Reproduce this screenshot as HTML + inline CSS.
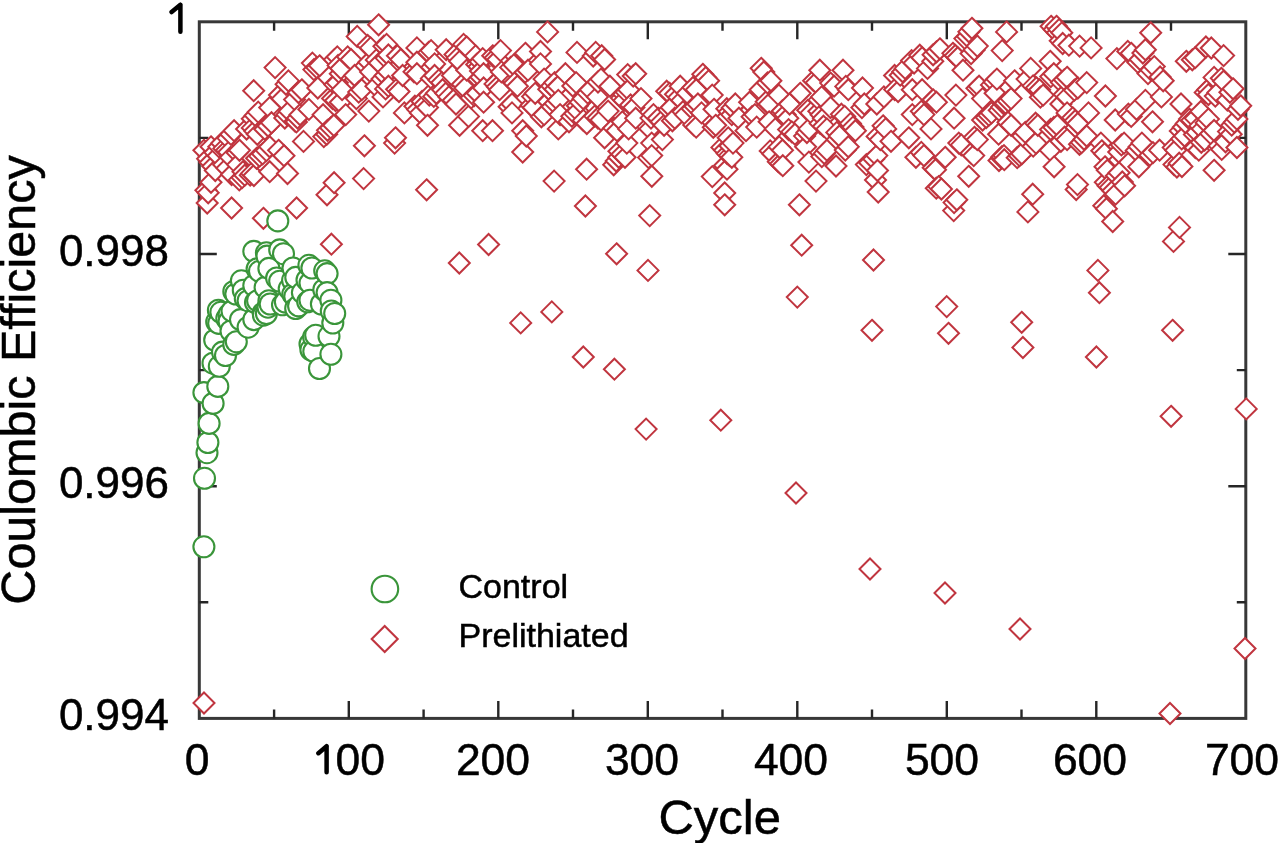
<!DOCTYPE html>
<html><head><meta charset="utf-8"><style>
html,body{margin:0;padding:0;background:#fff;width:1280px;height:843px;overflow:hidden}
svg{display:block;filter:blur(0.45px)}
text{font-family:"Liberation Sans", sans-serif;fill:#000;stroke:#000;stroke-width:0.5px}
</style></head><body>
<svg width="1280" height="843" viewBox="0 0 1280 843">
<rect width="1280" height="843" fill="#fff"/>
<rect x="199.3" y="21.8" width="1046.5" height="696.6" fill="none" stroke="#383838" stroke-width="3"/>
<path d="M274.1 718.4v-9M274.1 21.8v9M348.8 718.4v-17.5M348.8 21.8v17.5M423.6 718.4v-9M423.6 21.8v9M498.3 718.4v-17.5M498.3 21.8v17.5M573.0 718.4v-9M573.0 21.8v9M647.8 718.4v-17.5M647.8 21.8v17.5M722.5 718.4v-9M722.5 21.8v9M797.3 718.4v-17.5M797.3 21.8v17.5M872.0 718.4v-9M872.0 21.8v9M946.8 718.4v-17.5M946.8 21.8v17.5M1021.5 718.4v-9M1021.5 21.8v9M1096.3 718.4v-17.5M1096.3 21.8v17.5M1171.0 718.4v-9M1171.0 21.8v9M199.3 137.9h9M1245.8 137.9h-9M199.3 254.0h17.5M1245.8 254.0h-17.5M199.3 370.1h9M1245.8 370.1h-9M199.3 486.2h17.5M1245.8 486.2h-17.5M199.3 602.3h9M1245.8 602.3h-9" stroke="#262626" stroke-width="2.4" fill="none"/>
<g fill="#fff" stroke="#c0353f" stroke-width="2.0" stroke-linejoin="miter"><path d="M203.9 139.8L214.4 150.3L203.9 160.8L193.4 150.3Z"/><path d="M204.0 692.5L214.5 703.0L204.0 713.5L193.5 703.0Z"/><path d="M205.9 179.8L216.4 190.3L205.9 200.8L195.4 190.3Z"/><path d="M207.2 192.5L217.7 203.0L207.2 213.5L196.7 203.0Z"/><path d="M207.6 148.2L218.1 158.7L207.6 169.2L197.1 158.7Z"/><path d="M208.2 182.3L218.7 192.8L208.2 203.3L197.7 192.8Z"/><path d="M210.2 152.0L220.7 162.5L210.2 173.0L199.7 162.5Z"/><path d="M211.0 136.3L221.5 146.8L211.0 157.3L200.5 146.8Z"/><path d="M211.0 171.8L221.5 182.3L211.0 192.8L200.5 182.3Z"/><path d="M212.8 155.8L223.3 166.3L212.8 176.8L202.3 166.3Z"/><path d="M214.9 142.0L225.4 152.5L214.9 163.0L204.4 152.5Z"/><path d="M215.3 160.0L225.8 170.5L215.3 181.0L204.8 170.5Z"/><path d="M218.1 145.2L228.6 155.7L218.1 166.2L207.6 155.7Z"/><path d="M218.8 136.2L229.3 146.7L218.8 157.2L208.3 146.7Z"/><path d="M221.7 132.7L232.2 143.2L221.7 153.7L211.2 143.2Z"/><path d="M223.7 154.3L234.2 164.8L223.7 175.3L213.2 164.8Z"/><path d="M223.9 137.9L234.4 148.4L223.9 158.9L213.4 148.4Z"/><path d="M226.4 139.8L236.9 150.3L226.4 160.8L215.9 150.3Z"/><path d="M227.0 157.6L237.5 168.1L227.0 178.6L216.5 168.1Z"/><path d="M227.9 127.6L238.4 138.1L227.9 148.6L217.4 138.1Z"/><path d="M228.8 141.6L239.3 152.1L228.8 162.6L218.3 152.1Z"/><path d="M230.6 146.9L241.1 157.4L230.6 167.9L220.1 157.4Z"/><path d="M231.0 123.9L241.5 134.4L231.0 144.9L220.5 134.4Z"/><path d="M231.6 197.5L242.1 208.0L231.6 218.5L221.1 208.0Z"/><path d="M231.6 164.0L242.1 174.5L231.6 185.0L221.1 174.5Z"/><path d="M234.1 120.2L244.6 130.7L234.1 141.2L223.6 130.7Z"/><path d="M237.1 142.3L247.6 152.8L237.1 163.3L226.6 152.8Z"/><path d="M237.7 154.1L248.2 164.6L237.7 175.1L227.2 164.6Z"/><path d="M239.3 169.4L249.8 179.9L239.3 190.4L228.8 179.9Z"/><path d="M239.5 139.8L250.0 150.3L239.5 160.8L229.0 150.3Z"/><path d="M242.1 167.1L252.6 177.6L242.1 188.1L231.6 177.6Z"/><path d="M243.0 161.2L253.5 171.7L243.0 182.2L232.5 171.7Z"/><path d="M244.8 164.7L255.3 175.2L244.8 185.7L234.3 175.2Z"/><path d="M246.6 118.5L257.1 129.0L246.6 139.5L236.1 129.0Z"/><path d="M250.2 164.7L260.7 175.2L250.2 185.7L239.7 175.2Z"/><path d="M251.6 162.9L262.1 173.4L251.6 183.9L241.1 173.4Z"/><path d="M252.3 108.3L262.8 118.8L252.3 129.3L241.8 118.8Z"/><path d="M252.3 117.4L262.8 127.9L252.3 138.4L241.8 127.9Z"/><path d="M253.7 80.2L264.2 90.7L253.7 101.2L243.2 90.7Z"/><path d="M253.9 165.0L264.4 175.5L253.9 186.0L243.4 175.5Z"/><path d="M254.8 120.6L265.3 131.1L254.8 141.6L244.3 131.1Z"/><path d="M255.2 105.0L265.7 115.5L255.2 126.0L244.7 115.5Z"/><path d="M256.6 147.8L267.1 158.3L256.6 168.8L246.1 158.3Z"/><path d="M257.3 123.8L267.8 134.3L257.3 144.8L246.8 134.3Z"/><path d="M258.2 101.6L268.7 112.1L258.2 122.6L247.7 112.1Z"/><path d="M259.6 145.6L270.1 156.1L259.6 166.6L249.1 156.1Z"/><path d="M262.6 143.4L273.1 153.9L262.6 164.4L252.1 153.9Z"/><path d="M263.4 207.8L273.9 218.3L263.4 228.8L252.9 218.3Z"/><path d="M264.8 118.8L275.3 129.3L264.8 139.8L254.3 129.3Z"/><path d="M266.4 140.1L276.9 150.6L266.4 161.1L255.9 150.6Z"/><path d="M268.1 115.5L278.6 126.0L268.1 136.5L257.6 126.0Z"/><path d="M269.7 136.3L280.2 146.8L269.7 157.3L259.2 146.8Z"/><path d="M269.7 161.2L280.2 171.7L269.7 182.2L259.2 171.7Z"/><path d="M269.7 97.1L280.2 107.6L269.7 118.1L259.2 107.6Z"/><path d="M271.5 112.2L282.0 122.7L271.5 133.2L261.0 122.7Z"/><path d="M275.1 57.1L285.6 67.6L275.1 78.1L264.6 67.6Z"/><path d="M278.6 139.8L289.1 150.3L278.6 160.8L268.1 150.3Z"/><path d="M279.5 84.5L290.0 95.0L279.5 105.5L269.0 95.0Z"/><path d="M282.2 88.2L292.7 98.7L282.2 109.2L271.7 98.7Z"/><path d="M284.0 145.2L294.5 155.7L284.0 166.2L273.5 155.7Z"/><path d="M284.8 107.5L295.3 118.0L284.8 128.5L274.3 118.0Z"/><path d="M286.1 73.8L296.6 84.3L286.1 94.8L275.6 84.3Z"/><path d="M287.0 104.1L297.5 114.6L287.0 125.1L276.5 114.6Z"/><path d="M287.5 163.0L298.0 173.5L287.5 184.0L277.0 173.5Z"/><path d="M288.4 70.4L298.9 80.9L288.4 91.4L277.9 80.9Z"/><path d="M289.3 100.7L299.8 111.2L289.3 121.7L278.8 111.2Z"/><path d="M294.6 89.1L305.1 99.6L294.6 110.1L284.1 99.6Z"/><path d="M295.1 110.7L305.6 121.2L295.1 131.7L284.6 121.2Z"/><path d="M296.4 111.4L306.9 121.9L296.4 132.4L285.9 121.9Z"/><path d="M296.6 197.5L307.1 208.0L296.6 218.5L286.1 208.0Z"/><path d="M297.6 107.5L308.1 118.0L297.6 128.5L287.1 118.0Z"/><path d="M298.5 82.0L309.0 92.5L298.5 103.0L288.0 92.5Z"/><path d="M300.0 104.2L310.5 114.7L300.0 125.2L289.5 114.7Z"/><path d="M301.8 79.3L312.3 89.8L301.8 100.3L291.3 89.8Z"/><path d="M303.5 130.9L314.0 141.4L303.5 151.9L293.0 141.4Z"/><path d="M308.9 98.9L319.4 109.4L308.9 119.9L298.4 109.4Z"/><path d="M312.4 52.6L322.9 63.1L312.4 73.6L301.9 63.1Z"/><path d="M313.9 59.1L324.4 69.6L313.9 80.1L303.4 69.6Z"/><path d="M316.8 57.2L327.3 67.7L316.8 78.2L306.3 67.7Z"/><path d="M317.8 77.5L328.3 88.0L317.8 98.5L307.3 88.0Z"/><path d="M319.6 55.3L330.1 65.8L319.6 76.3L309.1 65.8Z"/><path d="M323.1 104.2L333.6 114.7L323.1 125.2L312.6 114.7Z"/><path d="M323.8 126.1L334.3 136.6L323.8 147.1L313.3 136.6Z"/><path d="M326.7 123.8L337.2 134.3L326.7 144.8L316.2 134.3Z"/><path d="M327.0 184.3L337.5 194.8L327.0 205.3L316.5 194.8Z"/><path d="M327.5 119.8L338.0 130.3L327.5 140.8L317.0 130.3Z"/><path d="M330.7 117.4L341.2 127.9L330.7 138.4L320.2 127.9Z"/><path d="M331.4 233.7L341.9 244.2L331.4 254.7L320.9 244.2Z"/><path d="M332.6 88.0L343.1 98.5L332.6 109.0L322.1 98.5Z"/><path d="M333.8 114.9L344.3 125.4L333.8 135.9L323.3 125.4Z"/><path d="M334.1 172.2L344.6 182.7L334.1 193.2L323.6 182.7Z"/><path d="M334.5 49.1L345.0 59.6L334.5 70.1L324.0 59.6Z"/><path d="M334.8 74.1L345.3 84.6L334.8 95.1L324.3 84.6Z"/><path d="M335.6 90.0L346.1 100.5L335.6 111.0L325.1 100.5Z"/><path d="M337.3 46.4L347.8 56.9L337.3 67.4L326.8 56.9Z"/><path d="M337.3 72.2L347.8 82.7L337.3 93.2L326.8 82.7Z"/><path d="M338.1 54.9L348.6 65.4L338.1 75.9L327.6 65.4Z"/><path d="M340.3 63.2L350.8 73.7L340.3 84.2L329.8 73.7Z"/><path d="M340.3 91.7L350.8 102.2L340.3 112.7L329.8 102.2Z"/><path d="M340.9 58.0L351.4 68.5L340.9 79.0L330.4 68.5Z"/><path d="M342.1 79.2L352.6 89.7L342.1 100.2L331.6 89.7Z"/><path d="M345.7 104.1L356.2 114.6L345.7 125.1L335.2 114.6Z"/><path d="M347.7 46.4L358.2 56.9L347.7 67.4L337.2 56.9Z"/><path d="M351.0 49.0L361.5 59.5L351.0 70.0L340.5 59.5Z"/><path d="M354.6 65.0L365.1 75.5L354.6 86.0L344.1 75.5Z"/><path d="M356.4 88.1L366.9 98.6L356.4 109.1L345.9 98.6Z"/><path d="M357.2 25.9L367.7 36.4L357.2 46.9L346.7 36.4Z"/><path d="M358.7 81.6L369.2 92.1L358.7 102.6L348.2 92.1Z"/><path d="M361.7 79.2L372.2 89.7L361.7 100.2L351.2 89.7Z"/><path d="M363.6 168.1L374.1 178.6L363.6 189.1L353.1 178.6Z"/><path d="M364.4 135.3L374.9 145.8L364.4 156.3L353.9 145.8Z"/><path d="M367.7 35.0L378.2 45.5L367.7 56.0L357.2 45.5Z"/><path d="M368.8 51.7L379.3 62.2L368.8 72.7L358.3 62.2Z"/><path d="M368.8 100.6L379.3 111.1L368.8 121.6L358.3 111.1Z"/><path d="M370.6 37.4L381.1 47.9L370.6 58.4L360.1 47.9Z"/><path d="M370.6 61.4L381.1 71.9L370.6 82.4L360.1 71.9Z"/><path d="M375.9 75.7L386.4 86.2L375.9 96.7L365.4 86.2Z"/><path d="M376.3 49.4L386.8 59.9L376.3 70.4L365.8 59.9Z"/><path d="M378.6 14.3L389.1 24.8L378.6 35.3L368.1 24.8Z"/><path d="M379.5 52.5L390.0 63.0L379.5 73.5L369.0 63.0Z"/><path d="M382.0 68.6L392.5 79.1L382.0 89.6L371.5 79.1Z"/><path d="M383.0 86.4L393.5 96.9L383.0 107.4L372.5 96.9Z"/><path d="M383.9 35.7L394.4 46.2L383.9 56.7L373.4 46.2Z"/><path d="M385.2 65.0L395.7 75.5L385.2 86.0L374.7 75.5Z"/><path d="M385.6 78.4L396.1 88.9L385.6 99.4L375.1 88.9Z"/><path d="M386.1 47.6L396.6 58.1L386.1 68.6L375.6 58.1Z"/><path d="M386.6 33.9L397.1 44.4L386.6 54.9L376.1 44.4Z"/><path d="M388.4 44.5L398.9 55.0L388.4 65.5L377.9 55.0Z"/><path d="M388.4 61.4L398.9 71.9L388.4 82.4L377.9 71.9Z"/><path d="M388.4 75.7L398.9 86.2L388.4 96.7L377.9 86.2Z"/><path d="M394.6 132.6L405.1 143.1L394.6 153.6L384.1 143.1Z"/><path d="M395.5 127.3L406.0 137.8L395.5 148.3L385.0 137.8Z"/><path d="M396.6 78.8L407.1 89.3L396.6 99.8L386.1 89.3Z"/><path d="M397.4 45.2L407.9 55.7L397.4 66.2L386.9 55.7Z"/><path d="M399.0 81.0L409.5 91.5L399.0 102.0L388.5 91.5Z"/><path d="M400.8 49.0L411.3 59.5L400.8 70.0L390.3 59.5Z"/><path d="M402.6 65.0L413.1 75.5L402.6 86.0L392.1 75.5Z"/><path d="M404.4 102.4L414.9 112.9L404.4 123.4L393.9 112.9Z"/><path d="M414.0 61.3L424.5 71.8L414.0 82.3L403.5 71.8Z"/><path d="M414.9 95.7L425.4 106.2L414.9 116.7L404.4 106.2Z"/><path d="M416.9 37.4L427.4 47.9L416.9 58.4L406.4 47.9Z"/><path d="M416.9 51.7L427.4 62.2L416.9 72.7L406.4 62.2Z"/><path d="M416.9 63.2L427.4 73.7L416.9 84.2L406.4 73.7Z"/><path d="M417.6 99.1L428.1 109.6L417.6 120.1L407.1 109.6Z"/><path d="M420.4 102.4L430.9 112.9L420.4 123.4L409.9 112.9Z"/><path d="M422.1 91.0L432.6 101.5L422.1 112.0L411.6 101.5Z"/><path d="M424.8 94.0L435.3 104.5L424.8 115.0L414.3 104.5Z"/><path d="M426.6 179.3L437.1 189.8L426.6 200.3L416.1 189.8Z"/><path d="M427.5 97.0L438.0 107.5L427.5 118.0L417.0 107.5Z"/><path d="M427.5 114.8L438.0 125.3L427.5 135.8L417.0 125.3Z"/><path d="M428.7 41.9L439.2 52.4L428.7 62.9L418.2 52.4Z"/><path d="M429.3 84.6L439.8 95.1L429.3 105.6L418.8 95.1Z"/><path d="M431.1 40.1L441.6 50.6L431.1 61.1L420.6 50.6Z"/><path d="M431.4 67.9L441.9 78.4L431.4 88.9L420.9 78.4Z"/><path d="M431.7 56.7L442.2 67.2L431.7 77.7L421.2 67.2Z"/><path d="M433.8 85.9L444.3 96.4L433.8 106.9L423.3 96.4Z"/><path d="M434.6 53.4L445.1 63.9L434.6 74.4L424.1 63.9Z"/><path d="M434.6 65.0L445.1 75.5L434.6 86.0L424.1 75.5Z"/><path d="M436.4 82.8L446.9 93.3L436.4 103.8L425.9 93.3Z"/><path d="M438.8 69.6L449.3 80.1L438.8 90.6L428.3 80.1Z"/><path d="M441.8 72.1L452.3 82.6L441.8 93.1L431.3 82.6Z"/><path d="M442.6 79.2L453.1 89.7L442.6 100.2L432.1 89.7Z"/><path d="M445.7 82.8L456.2 93.3L445.7 103.8L435.2 93.3Z"/><path d="M446.2 39.2L456.7 49.7L446.2 60.2L435.7 49.7Z"/><path d="M448.9 86.4L459.4 96.9L448.9 107.4L438.4 96.9Z"/><path d="M452.4 65.0L462.9 75.5L452.4 86.0L441.9 75.5Z"/><path d="M453.3 89.7L463.8 100.2L453.3 110.7L442.8 100.2Z"/><path d="M455.0 44.0L465.5 54.5L455.0 65.0L444.5 54.5Z"/><path d="M456.0 93.5L466.5 104.0L456.0 114.5L445.5 104.0Z"/><path d="M457.3 47.4L467.8 57.9L457.3 68.4L446.8 57.9Z"/><path d="M459.3 252.5L469.8 263.0L459.3 273.5L448.8 263.0Z"/><path d="M459.6 50.8L470.1 61.3L459.6 71.8L449.1 61.3Z"/><path d="M459.6 114.8L470.1 125.3L459.6 135.8L449.1 125.3Z"/><path d="M462.4 73.7L472.9 84.2L462.4 94.7L451.9 84.2Z"/><path d="M463.6 33.9L474.1 44.4L463.6 54.9L453.1 44.4Z"/><path d="M464.9 77.5L475.4 88.0L464.9 98.5L454.4 88.0Z"/><path d="M466.7 36.5L477.2 47.0L466.7 57.5L456.2 47.0Z"/><path d="M466.7 59.7L477.2 70.2L466.7 80.7L456.2 70.2Z"/><path d="M468.5 105.9L479.0 116.4L468.5 126.9L458.0 116.4Z"/><path d="M471.2 87.4L481.7 97.9L471.2 108.4L460.7 97.9Z"/><path d="M474.2 85.1L484.7 95.6L474.2 106.1L463.7 95.6Z"/><path d="M475.6 45.4L486.1 55.9L475.6 66.4L465.1 55.9Z"/><path d="M476.7 54.0L487.2 64.5L476.7 75.0L466.2 64.5Z"/><path d="M477.3 82.8L487.8 93.3L477.3 103.8L466.8 93.3Z"/><path d="M479.1 56.1L489.6 66.6L479.1 77.1L468.6 66.6Z"/><path d="M480.2 51.2L490.7 61.7L480.2 72.2L469.7 61.7Z"/><path d="M480.5 60.5L491.0 71.0L480.5 81.5L470.0 71.0Z"/><path d="M480.9 66.8L491.4 77.3L480.9 87.8L470.4 77.3Z"/><path d="M482.7 120.2L493.2 130.7L482.7 141.2L472.2 130.7Z"/><path d="M482.7 48.1L493.2 58.6L482.7 69.1L472.2 58.6Z"/><path d="M483.6 63.2L494.1 73.7L483.6 84.2L473.1 73.7Z"/><path d="M483.6 77.5L494.1 88.0L483.6 98.5L473.1 88.0Z"/><path d="M483.6 91.7L494.1 102.2L483.6 112.7L473.1 102.2Z"/><path d="M488.6 234.0L499.1 244.5L488.6 255.0L478.1 244.5Z"/><path d="M492.5 120.2L503.0 130.7L492.5 141.2L482.0 130.7Z"/><path d="M492.7 45.3L503.2 55.8L492.7 66.3L482.2 55.8Z"/><path d="M495.0 73.4L505.5 83.9L495.0 94.4L484.5 83.9Z"/><path d="M495.2 47.2L505.7 57.7L495.2 68.2L484.7 57.7Z"/><path d="M497.3 76.3L507.8 86.8L497.3 97.3L486.8 86.8Z"/><path d="M497.8 49.0L508.3 59.5L497.8 70.0L487.3 59.5Z"/><path d="M499.6 79.2L510.1 89.7L499.6 100.2L489.1 89.7Z"/><path d="M500.5 40.1L511.0 50.6L500.5 61.1L490.0 50.6Z"/><path d="M501.4 61.4L511.9 71.9L501.4 82.4L490.9 71.9Z"/><path d="M509.1 96.3L519.6 106.8L509.1 117.3L498.6 106.8Z"/><path d="M510.7 56.9L521.2 67.4L510.7 77.9L500.2 67.4Z"/><path d="M512.0 93.5L522.5 104.0L512.0 114.5L501.5 104.0Z"/><path d="M512.0 102.4L522.5 112.9L512.0 123.4L501.5 112.9Z"/><path d="M513.8 54.3L524.3 64.8L513.8 75.3L503.3 64.8Z"/><path d="M514.5 72.6L525.0 83.1L514.5 93.6L504.0 83.1Z"/><path d="M517.4 75.7L527.9 86.2L517.4 96.7L506.9 86.2Z"/><path d="M520.7 312.4L531.2 322.9L520.7 333.4L510.2 322.9Z"/><path d="M522.7 120.2L533.2 130.7L522.7 141.2L512.2 130.7Z"/><path d="M522.7 141.5L533.2 152.0L522.7 162.5L512.2 152.0Z"/><path d="M525.2 61.7L535.7 72.2L525.2 82.7L514.7 72.2Z"/><path d="M525.4 42.8L535.9 53.3L525.4 63.8L514.9 53.3Z"/><path d="M526.3 125.5L536.8 136.0L526.3 146.5L515.8 136.0Z"/><path d="M528.0 59.7L538.5 70.2L528.0 80.7L517.5 70.2Z"/><path d="M531.1 94.8L541.6 105.3L531.1 115.8L520.6 105.3Z"/><path d="M532.6 86.1L543.1 96.6L532.6 107.1L522.1 96.6Z"/><path d="M533.4 97.0L543.9 107.5L533.4 118.0L522.9 107.5Z"/><path d="M535.2 82.8L545.7 93.3L535.2 103.8L524.7 93.3Z"/><path d="M540.5 41.0L551.0 51.5L540.5 62.0L530.0 51.5Z"/><path d="M540.5 53.4L551.0 63.9L540.5 74.4L530.0 63.9Z"/><path d="M541.4 106.3L551.9 116.8L541.4 127.3L530.9 116.8Z"/><path d="M544.1 68.6L554.6 79.1L544.1 89.6L533.6 79.1Z"/><path d="M544.1 104.1L554.6 114.6L544.1 125.1L533.6 114.6Z"/><path d="M547.6 21.4L558.1 31.9L547.6 42.4L537.1 31.9Z"/><path d="M548.7 78.8L559.2 89.3L548.7 99.8L538.2 89.3Z"/><path d="M551.7 75.5L562.2 86.0L551.7 96.5L541.2 86.0Z"/><path d="M551.8 301.4L562.3 311.9L551.8 322.4L541.3 311.9Z"/><path d="M552.2 96.3L562.7 106.8L552.2 117.3L541.7 106.8Z"/><path d="M554.1 170.6L564.6 181.1L554.1 191.6L543.6 181.1Z"/><path d="M554.7 72.1L565.2 82.6L554.7 93.1L544.2 82.6Z"/><path d="M555.1 78.7L565.6 89.2L555.1 99.7L544.6 89.2Z"/><path d="M555.2 93.1L565.7 103.6L555.2 114.1L544.7 103.6Z"/><path d="M558.3 75.7L568.8 86.2L558.3 96.7L547.8 86.2Z"/><path d="M558.3 89.9L568.8 100.4L558.3 110.9L547.8 100.4Z"/><path d="M558.3 118.4L568.8 128.9L558.3 139.4L547.8 128.9Z"/><path d="M560.1 104.1L570.6 114.6L560.1 125.1L549.6 114.6Z"/><path d="M565.4 63.2L575.9 73.7L565.4 84.2L554.9 73.7Z"/><path d="M569.0 111.3L579.5 121.8L569.0 132.3L558.5 121.8Z"/><path d="M571.8 105.7L582.3 116.2L571.8 126.7L561.3 116.2Z"/><path d="M572.8 75.5L583.3 86.0L572.8 96.5L562.3 86.0Z"/><path d="M574.8 103.1L585.3 113.6L574.8 124.1L564.3 113.6Z"/><path d="M576.1 72.1L586.6 82.6L576.1 93.1L565.6 82.6Z"/><path d="M577.0 41.9L587.5 52.4L577.0 62.9L566.5 52.4Z"/><path d="M577.4 95.3L587.9 105.8L577.4 116.3L566.9 105.8Z"/><path d="M577.9 100.6L588.4 111.1L577.9 121.6L567.4 111.1Z"/><path d="M580.3 91.7L590.8 102.2L580.3 112.7L569.8 102.2Z"/><path d="M583.2 88.1L593.7 98.6L583.2 109.1L572.7 98.6Z"/><path d="M583.3 346.5L593.8 357.0L583.3 367.5L572.8 357.0Z"/><path d="M583.4 109.9L593.9 120.4L583.4 130.9L572.9 120.4Z"/><path d="M585.4 195.5L595.9 206.0L585.4 216.5L574.9 206.0Z"/><path d="M586.6 158.7L597.1 169.2L586.6 179.7L576.1 169.2Z"/><path d="M586.8 113.0L597.3 123.5L586.8 134.0L576.3 123.5Z"/><path d="M587.8 82.6L598.3 93.1L587.8 103.6L577.3 93.1Z"/><path d="M590.3 79.2L600.8 89.7L590.3 100.2L579.8 89.7Z"/><path d="M593.2 45.5L603.7 56.0L593.2 66.5L582.7 56.0Z"/><path d="M594.7 105.6L605.2 116.1L594.7 126.6L584.2 116.1Z"/><path d="M595.7 41.9L606.2 52.4L595.7 62.9L585.2 52.4Z"/><path d="M597.4 86.4L607.9 96.9L597.4 107.4L586.9 96.9Z"/><path d="M597.9 107.5L608.4 118.0L597.9 128.5L587.4 118.0Z"/><path d="M598.0 71.5L608.5 82.0L598.0 92.5L587.5 82.0Z"/><path d="M601.0 68.6L611.5 79.1L601.0 89.6L590.5 79.1Z"/><path d="M601.0 109.5L611.5 120.0L601.0 130.5L590.5 120.0Z"/><path d="M601.7 45.2L612.2 55.7L601.7 66.2L591.2 55.7Z"/><path d="M604.6 49.0L615.1 59.5L604.6 70.0L594.1 59.5Z"/><path d="M604.6 127.3L615.1 137.8L604.6 148.3L594.1 137.8Z"/><path d="M608.1 100.6L618.6 111.1L608.1 121.6L597.6 111.1Z"/><path d="M609.9 75.7L620.4 86.2L609.9 96.7L599.4 86.2Z"/><path d="M613.7 154.3L624.2 164.8L613.7 175.3L603.2 164.8Z"/><path d="M613.8 117.6L624.3 128.1L613.8 138.6L603.3 128.1Z"/><path d="M614.4 358.7L624.9 369.2L614.4 379.7L603.9 369.2Z"/><path d="M616.2 150.5L626.7 161.0L616.2 171.5L605.7 161.0Z"/><path d="M616.6 243.3L627.1 253.8L616.6 264.3L606.1 253.8Z"/><path d="M617.0 120.2L627.5 130.7L617.0 141.2L606.5 130.7Z"/><path d="M618.8 146.8L629.3 157.3L618.8 167.8L608.3 157.3Z"/><path d="M618.9 140.8L629.4 151.3L618.9 161.8L608.4 151.3Z"/><path d="M621.5 87.5L632.0 98.0L621.5 108.5L611.0 98.0Z"/><path d="M621.9 143.8L632.4 154.3L621.9 164.8L611.4 154.3Z"/><path d="M622.3 111.3L632.8 121.8L622.3 132.3L611.8 121.8Z"/><path d="M623.8 83.9L634.3 94.4L623.8 104.9L613.3 94.4Z"/><path d="M624.1 89.9L634.6 100.4L624.1 110.9L613.6 100.4Z"/><path d="M625.0 146.8L635.5 157.3L625.0 167.8L614.5 157.3Z"/><path d="M626.2 81.6L636.7 92.1L626.2 102.6L615.7 92.1Z"/><path d="M626.8 132.6L637.3 143.1L626.8 153.6L616.3 143.1Z"/><path d="M627.7 64.1L638.2 74.6L627.7 85.1L617.2 74.6Z"/><path d="M628.6 79.2L639.1 89.7L628.6 100.2L618.1 89.7Z"/><path d="M628.6 118.4L639.1 128.9L628.6 139.4L618.1 128.9Z"/><path d="M630.6 94.5L641.1 105.0L630.6 115.5L620.1 105.0Z"/><path d="M633.2 65.5L643.7 76.0L633.2 86.5L622.7 76.0Z"/><path d="M633.9 97.0L644.4 107.5L633.9 118.0L623.4 107.5Z"/><path d="M635.7 63.2L646.2 73.7L635.7 84.2L625.2 73.7Z"/><path d="M635.7 107.7L646.2 118.2L635.7 128.7L625.2 118.2Z"/><path d="M641.0 88.1L651.5 98.6L641.0 109.1L630.5 98.6Z"/><path d="M646.1 418.6L656.6 429.1L646.1 439.6L635.6 429.1Z"/><path d="M648.0 259.9L658.5 270.4L648.0 280.9L637.5 270.4Z"/><path d="M648.6 147.1L659.1 157.6L648.6 168.1L638.1 157.6Z"/><path d="M649.7 205.1L660.2 215.6L649.7 226.1L639.2 215.6Z"/><path d="M649.9 118.4L660.4 128.9L649.9 139.4L639.4 128.9Z"/><path d="M651.0 107.6L661.5 118.1L651.0 128.6L640.5 118.1Z"/><path d="M651.7 132.6L662.2 143.1L651.7 153.6L641.2 143.1Z"/><path d="M651.7 145.1L662.2 155.6L651.7 166.1L641.2 155.6Z"/><path d="M651.8 165.8L662.3 176.3L651.8 186.8L641.3 176.3Z"/><path d="M653.5 104.1L664.0 114.6L653.5 125.1L643.0 114.6Z"/><path d="M658.3 107.8L668.8 118.3L658.3 128.8L647.8 118.3Z"/><path d="M661.2 111.3L671.7 121.8L661.2 132.3L650.7 121.8Z"/><path d="M662.4 129.1L672.9 139.6L662.4 150.1L651.9 139.6Z"/><path d="M664.1 114.8L674.6 125.3L664.1 135.8L653.6 125.3Z"/><path d="M666.7 80.7L677.2 91.2L666.7 101.7L656.2 91.2Z"/><path d="M669.0 99.4L679.5 109.9L669.0 120.4L658.5 109.9Z"/><path d="M669.5 82.8L680.0 93.3L669.5 103.8L659.0 93.3Z"/><path d="M671.3 97.0L681.8 107.5L671.3 118.0L660.8 107.5Z"/><path d="M672.4 110.3L682.9 120.8L672.4 131.3L661.9 120.8Z"/><path d="M674.8 107.7L685.3 118.2L674.8 128.7L664.3 118.2Z"/><path d="M675.5 83.7L686.0 94.2L675.5 104.7L665.0 94.2Z"/><path d="M678.7 86.8L689.2 97.3L678.7 107.8L668.2 97.3Z"/><path d="M680.2 75.7L690.7 86.2L680.2 96.7L669.7 86.2Z"/><path d="M681.9 89.9L692.4 100.4L681.9 110.9L671.4 100.4Z"/><path d="M683.0 101.2L693.5 111.7L683.0 122.2L672.5 111.7Z"/><path d="M685.5 104.1L696.0 114.6L685.5 125.1L675.0 114.6Z"/><path d="M687.3 82.8L697.8 93.3L687.3 103.8L676.8 93.3Z"/><path d="M692.2 98.3L702.7 108.8L692.2 119.3L681.7 108.8Z"/><path d="M693.0 77.0L703.5 87.5L693.0 98.0L682.5 87.5Z"/><path d="M693.7 114.4L704.2 124.9L693.7 135.4L683.2 124.9Z"/><path d="M695.1 95.9L705.6 106.4L695.1 116.9L684.6 106.4Z"/><path d="M696.2 79.2L706.7 89.7L696.2 100.2L685.7 89.7Z"/><path d="M696.2 116.6L706.7 127.1L696.2 137.6L685.7 127.1Z"/><path d="M697.9 93.5L708.4 104.0L697.9 114.5L687.4 104.0Z"/><path d="M701.5 102.4L712.0 112.9L701.5 123.4L691.0 112.9Z"/><path d="M702.8 63.8L713.3 74.3L702.8 84.8L692.3 74.3Z"/><path d="M705.7 67.1L716.2 77.6L705.7 88.1L695.2 77.6Z"/><path d="M708.6 70.3L719.1 80.8L708.6 91.3L698.1 80.8Z"/><path d="M712.2 84.6L722.7 95.1L712.2 105.6L701.7 95.1Z"/><path d="M712.3 166.1L722.8 176.6L712.3 187.1L701.8 176.6Z"/><path d="M713.3 116.8L723.8 127.3L713.3 137.8L702.8 127.3Z"/><path d="M714.0 98.8L724.5 109.3L714.0 119.8L703.5 109.3Z"/><path d="M715.7 114.8L726.2 125.3L715.7 135.8L705.2 125.3Z"/><path d="M720.8 409.7L731.3 420.2L720.8 430.7L710.3 420.2Z"/><path d="M721.9 136.9L732.4 147.4L721.9 157.9L711.4 147.4Z"/><path d="M724.6 139.7L735.1 150.2L724.6 160.7L714.1 150.2Z"/><path d="M724.6 155.0L735.1 165.5L724.6 176.0L714.1 165.5Z"/><path d="M724.7 182.5L735.2 193.0L724.7 203.5L714.2 193.0Z"/><path d="M724.7 194.3L735.2 204.8L724.7 215.3L714.2 204.8Z"/><path d="M726.8 98.2L737.3 108.7L726.8 119.2L716.3 108.7Z"/><path d="M727.0 158.7L737.5 169.2L727.0 179.7L716.5 169.2Z"/><path d="M727.2 143.1L737.7 153.6L727.2 164.1L716.7 153.6Z"/><path d="M728.2 127.3L738.7 137.8L728.2 148.3L717.7 137.8Z"/><path d="M729.3 101.2L739.8 111.7L729.3 122.2L718.8 111.7Z"/><path d="M729.5 144.9L740.0 155.4L729.5 165.9L719.0 155.4Z"/><path d="M730.1 135.4L740.6 145.9L730.1 156.4L719.6 145.9Z"/><path d="M731.8 146.8L742.3 157.3L731.8 167.8L721.3 157.3Z"/><path d="M731.8 104.1L742.3 114.6L731.8 125.1L721.3 114.6Z"/><path d="M732.3 97.3L742.8 107.8L732.3 118.3L721.8 107.8Z"/><path d="M733.0 132.6L743.5 143.1L733.0 153.6L722.5 143.1Z"/><path d="M735.3 93.5L745.8 104.0L735.3 114.5L724.8 104.0Z"/><path d="M738.9 107.7L749.4 118.2L738.9 128.7L728.4 118.2Z"/><path d="M746.0 120.2L756.5 130.7L746.0 141.2L735.5 130.7Z"/><path d="M749.6 91.7L760.1 102.2L749.6 112.7L739.1 102.2Z"/><path d="M752.1 106.2L762.6 116.7L752.1 127.2L741.6 116.7Z"/><path d="M754.9 104.1L765.4 114.6L754.9 125.1L744.4 114.6Z"/><path d="M756.7 116.6L767.2 127.1L756.7 137.6L746.2 127.1Z"/><path d="M760.2 79.2L770.7 89.7L760.2 100.2L749.7 89.7Z"/><path d="M761.2 57.8L771.7 68.3L761.2 78.8L750.7 68.3Z"/><path d="M763.8 61.5L774.3 72.0L763.8 82.5L753.3 72.0Z"/><path d="M766.2 91.2L776.7 101.7L766.2 112.2L755.7 101.7Z"/><path d="M767.5 72.4L778.0 82.9L767.5 93.4L757.0 82.9Z"/><path d="M769.1 93.5L779.6 104.0L769.1 114.5L758.6 104.0Z"/><path d="M769.1 111.3L779.6 121.8L769.1 132.3L758.6 121.8Z"/><path d="M770.2 140.4L780.7 150.9L770.2 161.4L759.7 150.9Z"/><path d="M770.9 70.3L781.4 80.8L770.9 91.3L760.4 80.8Z"/><path d="M772.7 143.3L783.2 153.8L772.7 164.3L762.2 153.8Z"/><path d="M775.3 118.4L785.8 128.9L775.3 139.4L764.8 128.9Z"/><path d="M778.3 151.2L788.8 161.7L778.3 172.2L767.8 161.7Z"/><path d="M778.9 84.6L789.4 95.1L778.9 105.6L768.4 95.1Z"/><path d="M779.2 136.4L789.7 146.9L779.2 157.4L768.7 146.9Z"/><path d="M780.6 153.2L791.1 163.7L780.6 174.2L770.1 163.7Z"/><path d="M782.4 100.5L792.9 111.0L782.4 121.5L771.9 111.0Z"/><path d="M782.5 139.7L793.0 150.2L782.5 160.7L772.0 150.2Z"/><path d="M782.8 155.2L793.3 165.7L782.8 176.2L772.3 165.7Z"/><path d="M785.1 104.1L795.6 114.6L785.1 125.1L774.6 114.6Z"/><path d="M787.8 107.7L798.3 118.2L787.8 128.7L777.3 118.2Z"/><path d="M788.6 119.1L799.1 129.6L788.6 140.1L778.1 129.6Z"/><path d="M789.6 93.5L800.1 104.0L789.6 114.5L779.1 104.0Z"/><path d="M791.8 121.4L802.3 131.9L791.8 142.4L781.3 131.9Z"/><path d="M794.9 123.7L805.4 134.2L794.9 144.7L784.4 134.2Z"/><path d="M796.0 482.5L806.5 493.0L796.0 503.5L785.5 493.0Z"/><path d="M797.3 286.6L807.8 297.1L797.3 307.6L786.8 297.1Z"/><path d="M799.4 194.3L809.9 204.8L799.4 215.3L788.9 204.8Z"/><path d="M800.2 82.8L810.7 93.3L800.2 103.8L789.7 93.3Z"/><path d="M801.7 234.7L812.2 245.2L801.7 255.7L791.2 245.2Z"/><path d="M804.6 125.6L815.1 136.1L804.6 146.6L794.1 136.1Z"/><path d="M805.6 136.2L816.1 146.7L805.6 157.2L795.1 146.7Z"/><path d="M806.9 122.0L817.4 132.5L806.9 143.0L796.4 132.5Z"/><path d="M807.7 99.8L818.2 110.3L807.7 120.8L797.2 110.3Z"/><path d="M808.9 151.6L819.4 162.1L808.9 172.6L798.4 162.1Z"/><path d="M809.1 118.4L819.6 128.9L809.1 139.4L798.6 128.9Z"/><path d="M810.9 102.4L821.4 112.9L810.9 123.4L800.4 112.9Z"/><path d="M813.6 70.2L824.1 80.7L813.6 91.2L803.1 80.7Z"/><path d="M816.0 170.6L826.5 181.1L816.0 191.6L805.5 181.1Z"/><path d="M816.3 72.1L826.8 82.6L816.3 93.1L805.8 82.6Z"/><path d="M818.8 100.8L829.3 111.3L818.8 121.8L808.3 111.3Z"/><path d="M819.0 89.4L829.5 99.9L819.0 110.4L808.5 99.9Z"/><path d="M819.8 59.7L830.3 70.2L819.8 80.7L809.3 70.2Z"/><path d="M820.2 112.9L830.7 123.4L820.2 133.9L809.7 123.4Z"/><path d="M821.1 104.3L831.6 114.8L821.1 125.3L810.6 114.8Z"/><path d="M821.6 86.4L832.1 96.9L821.6 107.4L811.1 96.9Z"/><path d="M821.8 146.1L832.3 156.6L821.8 167.1L811.3 156.6Z"/><path d="M823.4 107.7L833.9 118.2L823.4 128.7L812.9 118.2Z"/><path d="M823.5 115.7L834.0 126.2L823.5 136.7L813.0 126.2Z"/><path d="M824.3 142.9L834.8 153.4L824.3 163.9L813.8 153.4Z"/><path d="M826.9 118.4L837.4 128.9L826.9 139.4L816.4 128.9Z"/><path d="M826.9 139.7L837.4 150.2L826.9 160.7L816.4 150.2Z"/><path d="M830.5 97.0L841.0 107.5L830.5 118.0L820.0 107.5Z"/><path d="M830.7 72.6L841.2 83.1L830.7 93.6L820.2 83.1Z"/><path d="M834.1 75.7L844.6 86.2L834.1 96.7L823.6 86.2Z"/><path d="M836.0 155.5L846.5 166.0L836.0 176.5L825.5 166.0Z"/><path d="M836.8 121.9L847.3 132.4L836.8 142.9L826.3 132.4Z"/><path d="M839.4 125.5L849.9 136.0L839.4 146.5L828.9 136.0Z"/><path d="M841.4 103.7L851.9 114.2L841.4 124.7L830.9 114.2Z"/><path d="M843.0 59.7L853.5 70.2L843.0 80.7L832.5 70.2Z"/><path d="M844.7 105.9L855.2 116.4L844.7 126.9L834.2 116.4Z"/><path d="M845.3 139.6L855.8 150.1L845.3 160.6L834.8 150.1Z"/><path d="M845.8 75.9L856.3 86.4L845.8 96.9L835.3 86.4Z"/><path d="M848.3 79.2L858.8 89.7L848.3 100.2L837.8 89.7Z"/><path d="M848.3 136.2L858.8 146.7L848.3 157.2L837.8 146.7Z"/><path d="M850.5 113.1L861.0 123.6L850.5 134.1L840.0 123.6Z"/><path d="M853.0 116.6L863.5 127.1L853.0 137.6L842.5 127.1Z"/><path d="M855.4 120.2L865.9 130.7L855.4 141.2L844.9 130.7Z"/><path d="M861.9 97.1L872.4 107.6L861.9 118.1L851.4 107.6Z"/><path d="M862.5 77.5L873.0 88.0L862.5 98.5L852.0 88.0Z"/><path d="M864.3 93.5L874.8 104.0L864.3 114.5L853.8 104.0Z"/><path d="M866.4 154.1L876.9 164.6L866.4 175.1L855.9 164.6Z"/><path d="M869.6 152.2L880.1 162.7L869.6 173.2L859.1 162.7Z"/><path d="M870.0 558.5L880.5 569.0L870.0 579.5L859.5 569.0Z"/><path d="M872.0 319.8L882.5 330.3L872.0 340.8L861.5 330.3Z"/><path d="M873.5 249.5L884.0 260.0L873.5 270.5L863.0 260.0Z"/><path d="M873.7 148.5L884.2 159.0L873.7 169.5L863.2 159.0Z"/><path d="M875.5 169.5L886.0 180.0L875.5 190.5L865.0 180.0Z"/><path d="M876.8 93.5L887.3 104.0L876.8 114.5L866.3 104.0Z"/><path d="M876.8 145.1L887.3 155.6L876.8 166.1L866.3 155.6Z"/><path d="M877.1 125.9L887.6 136.4L877.1 146.9L866.6 136.4Z"/><path d="M877.5 160.0L888.0 170.5L877.5 181.0L867.0 170.5Z"/><path d="M878.2 181.5L888.7 192.0L878.2 202.5L867.7 192.0Z"/><path d="M880.3 129.1L890.8 139.6L880.3 150.1L869.8 139.6Z"/><path d="M883.1 115.3L893.6 125.8L883.1 136.3L872.6 125.8Z"/><path d="M883.9 86.4L894.4 96.9L883.9 107.4L873.4 96.9Z"/><path d="M885.7 118.4L896.2 128.9L885.7 139.4L875.2 128.9Z"/><path d="M891.0 130.8L901.5 141.3L891.0 151.8L880.5 141.3Z"/><path d="M894.6 65.0L905.1 75.5L894.6 86.0L884.1 75.5Z"/><path d="M894.7 79.1L905.2 89.6L894.7 100.1L884.2 89.6Z"/><path d="M898.1 81.0L908.6 91.5L898.1 102.0L887.6 91.5Z"/><path d="M900.2 64.7L910.7 75.2L900.2 85.7L889.7 75.2Z"/><path d="M902.7 61.3L913.2 71.8L902.7 82.3L892.2 71.8Z"/><path d="M905.2 57.9L915.7 68.4L905.2 78.9L894.7 68.4Z"/><path d="M908.8 127.3L919.3 137.8L908.8 148.3L898.3 137.8Z"/><path d="M911.6 50.1L922.1 60.6L911.6 71.1L901.1 60.6Z"/><path d="M912.3 79.2L922.8 89.7L912.3 100.2L901.8 89.7Z"/><path d="M912.3 104.1L922.8 114.6L912.3 125.1L901.8 114.6Z"/><path d="M914.1 52.5L924.6 63.0L914.1 73.5L903.6 63.0Z"/><path d="M915.9 146.8L926.4 157.3L915.9 167.8L905.4 157.3Z"/><path d="M919.8 44.7L930.3 55.2L919.8 65.7L909.3 55.2Z"/><path d="M921.3 100.8L931.8 111.3L921.3 121.8L910.8 111.3Z"/><path d="M921.3 141.9L931.8 152.4L921.3 162.9L910.8 152.4Z"/><path d="M922.1 47.2L932.6 57.7L922.1 68.2L911.6 57.7Z"/><path d="M922.1 79.2L932.6 89.7L922.1 100.2L911.6 89.7Z"/><path d="M923.9 104.1L934.4 114.6L923.9 125.1L913.4 114.6Z"/><path d="M923.9 145.1L934.4 155.6L923.9 166.1L913.4 155.6Z"/><path d="M927.5 57.9L938.0 68.4L927.5 78.9L917.0 68.4Z"/><path d="M931.0 118.4L941.5 128.9L931.0 139.4L920.5 128.9Z"/><path d="M932.8 50.8L943.3 61.3L932.8 71.8L922.3 61.3Z"/><path d="M933.1 44.3L943.6 54.8L933.1 65.3L922.6 54.8Z"/><path d="M933.2 157.2L943.7 167.7L933.2 178.2L922.7 167.7Z"/><path d="M933.3 89.4L943.8 99.9L933.3 110.4L922.8 99.9Z"/><path d="M935.5 159.2L946.0 169.7L935.5 180.2L925.0 169.7Z"/><path d="M936.3 177.7L946.8 188.2L936.3 198.7L925.8 188.2Z"/><path d="M936.4 91.7L946.9 102.2L936.4 112.7L925.9 102.2Z"/><path d="M936.5 41.3L947.0 51.8L936.5 62.3L926.0 51.8Z"/><path d="M938.7 176.1L949.2 186.6L938.7 197.1L928.2 186.6Z"/><path d="M939.9 38.3L950.4 48.8L939.9 59.3L929.4 48.8Z"/><path d="M941.4 178.5L951.9 189.0L941.4 199.5L930.9 189.0Z"/><path d="M945.0 582.5L955.5 593.0L945.0 603.5L934.5 593.0Z"/><path d="M945.2 146.8L955.7 157.3L945.2 167.8L934.7 157.3Z"/><path d="M946.7 296.1L957.2 306.6L946.7 317.1L936.2 306.6Z"/><path d="M948.5 322.8L959.0 333.3L948.5 343.8L938.0 333.3Z"/><path d="M952.9 42.8L963.4 53.3L952.9 63.8L942.4 53.3Z"/><path d="M953.7 200.1L964.2 210.6L953.7 221.1L943.2 210.6Z"/><path d="M954.1 192.1L964.6 202.6L954.1 213.1L943.6 202.6Z"/><path d="M954.1 107.7L964.6 118.2L954.1 128.7L943.6 118.2Z"/><path d="M955.3 45.0L965.8 55.5L955.3 66.0L944.8 55.5Z"/><path d="M955.9 84.6L966.4 95.1L955.9 105.6L945.4 95.1Z"/><path d="M956.8 189.3L967.3 199.8L956.8 210.3L946.3 199.8Z"/><path d="M957.7 47.2L968.2 57.7L957.7 68.2L947.2 57.7Z"/><path d="M958.8 132.6L969.3 143.1L958.8 153.6L948.3 143.1Z"/><path d="M961.3 134.4L971.8 144.9L961.3 155.4L950.8 144.9Z"/><path d="M963.0 59.7L973.5 70.2L963.0 80.7L952.5 70.2Z"/><path d="M964.9 28.1L975.4 38.6L964.9 49.1L954.4 38.6Z"/><path d="M967.5 25.9L978.0 36.4L967.5 46.9L957.0 36.4Z"/><path d="M968.7 165.8L979.2 176.3L968.7 186.8L958.2 176.3Z"/><path d="M968.9 21.3L979.4 31.8L968.9 42.3L958.4 31.8Z"/><path d="M971.1 142.7L981.6 153.2L971.1 163.7L960.6 153.2Z"/><path d="M971.1 43.1L981.6 53.6L971.1 64.1L960.6 53.6Z"/><path d="M971.9 17.8L982.4 28.3L971.9 38.8L961.4 28.3Z"/><path d="M973.7 145.1L984.2 155.6L973.7 166.1L963.2 155.6Z"/><path d="M974.2 39.4L984.7 49.9L974.2 60.4L963.7 49.9Z"/><path d="M974.4 126.8L984.9 137.3L974.4 147.8L963.9 137.3Z"/><path d="M976.9 77.8L987.4 88.3L976.9 98.8L966.4 88.3Z"/><path d="M977.3 35.6L987.8 46.1L977.3 56.6L966.8 46.1Z"/><path d="M977.3 129.1L987.8 139.6L977.3 150.1L966.8 139.6Z"/><path d="M979.1 75.7L989.6 86.2L979.1 96.7L968.6 86.2Z"/><path d="M982.6 88.1L993.1 98.6L982.6 109.1L972.1 98.6Z"/><path d="M982.6 109.5L993.1 120.0L982.6 130.5L972.1 120.0Z"/><path d="M986.3 107.0L996.8 117.5L986.3 128.0L975.8 117.5Z"/><path d="M988.9 104.7L999.4 115.2L988.9 125.7L978.4 115.2Z"/><path d="M991.5 74.4L1002.0 84.9L991.5 95.4L981.0 84.9Z"/><path d="M991.5 102.4L1002.0 112.9L991.5 123.4L981.0 112.9Z"/><path d="M994.2 71.5L1004.7 82.0L994.2 92.5L983.7 82.0Z"/><path d="M995.1 82.8L1005.6 93.3L995.1 103.8L984.6 93.3Z"/><path d="M996.9 68.6L1007.4 79.1L996.9 89.6L986.4 79.1Z"/><path d="M998.6 123.7L1009.1 134.2L998.6 144.7L988.1 134.2Z"/><path d="M999.0 150.0L1009.5 160.5L999.0 171.0L988.5 160.5Z"/><path d="M999.2 99.8L1009.7 110.3L999.2 120.8L988.7 110.3Z"/><path d="M1001.5 147.5L1012.0 158.0L1001.5 168.5L991.0 158.0Z"/><path d="M1001.6 96.6L1012.1 107.1L1001.6 117.6L991.1 107.1Z"/><path d="M1002.0 146.2L1012.5 156.7L1002.0 167.2L991.5 156.7Z"/><path d="M1002.2 40.1L1012.7 50.6L1002.2 61.1L991.7 50.6Z"/><path d="M1004.0 93.5L1014.5 104.0L1004.0 114.5L993.5 104.0Z"/><path d="M1004.0 145.1L1014.5 155.6L1004.0 166.1L993.5 155.6Z"/><path d="M1004.3 149.2L1014.8 159.7L1004.3 170.2L993.8 159.7Z"/><path d="M1005.5 92.8L1016.0 103.3L1005.5 113.8L995.0 103.3Z"/><path d="M1006.6 21.4L1017.1 31.9L1006.6 42.4L996.1 31.9Z"/><path d="M1008.0 111.7L1018.5 122.2L1008.0 132.7L997.5 122.2Z"/><path d="M1008.3 90.5L1018.8 101.0L1008.3 111.5L997.8 101.0Z"/><path d="M1011.1 88.1L1021.6 98.6L1011.1 109.1L1000.6 98.6Z"/><path d="M1011.1 114.8L1021.6 125.3L1011.1 135.8L1000.6 125.3Z"/><path d="M1014.6 70.3L1025.1 80.8L1014.6 91.3L1004.1 80.8Z"/><path d="M1017.2 147.2L1027.7 157.7L1017.2 168.2L1006.7 157.7Z"/><path d="M1019.5 145.2L1030.0 155.7L1019.5 166.2L1009.0 155.7Z"/><path d="M1020.0 618.5L1030.5 629.0L1020.0 639.5L1009.5 629.0Z"/><path d="M1021.7 311.8L1032.2 322.3L1021.7 332.8L1011.2 322.3Z"/><path d="M1021.8 143.3L1032.3 153.8L1021.8 164.3L1011.3 153.8Z"/><path d="M1022.8 125.4L1033.3 135.9L1022.8 146.4L1012.3 135.9Z"/><path d="M1022.9 337.0L1033.4 347.5L1022.9 358.0L1012.4 347.5Z"/><path d="M1025.3 121.9L1035.8 132.4L1025.3 142.9L1014.8 132.4Z"/><path d="M1027.1 68.6L1037.6 79.1L1027.1 89.6L1016.6 79.1Z"/><path d="M1027.9 201.4L1038.4 211.9L1027.9 222.4L1017.4 211.9Z"/><path d="M1030.7 57.9L1041.2 68.4L1030.7 78.9L1020.2 68.4Z"/><path d="M1032.7 183.7L1043.2 194.2L1032.7 204.7L1022.2 194.2Z"/><path d="M1033.1 75.4L1043.6 85.9L1033.1 96.4L1022.6 85.9Z"/><path d="M1033.2 135.7L1043.7 146.2L1033.2 156.7L1022.7 146.2Z"/><path d="M1035.6 112.7L1046.1 123.2L1035.6 133.7L1025.1 123.2Z"/><path d="M1036.0 132.6L1046.5 143.1L1036.0 153.6L1025.5 143.1Z"/><path d="M1036.4 77.3L1046.9 87.8L1036.4 98.3L1025.9 87.8Z"/><path d="M1037.8 114.8L1048.3 125.3L1037.8 135.8L1027.3 125.3Z"/><path d="M1039.6 79.2L1050.1 89.7L1039.6 100.2L1029.1 89.7Z"/><path d="M1040.4 86.7L1050.9 97.2L1040.4 107.7L1029.9 97.2Z"/><path d="M1043.1 84.6L1053.6 95.1L1043.1 105.6L1032.6 95.1Z"/><path d="M1050.2 50.8L1060.7 61.3L1050.2 71.8L1039.7 61.3Z"/><path d="M1050.2 139.7L1060.7 150.2L1050.2 160.7L1039.7 150.2Z"/><path d="M1050.6 119.0L1061.1 129.5L1050.6 140.0L1040.1 129.5Z"/><path d="M1050.8 66.1L1061.3 76.6L1050.8 87.1L1040.3 76.6Z"/><path d="M1051.1 15.8L1061.6 26.3L1051.1 36.8L1040.6 26.3Z"/><path d="M1053.8 63.2L1064.3 73.7L1053.8 84.2L1043.3 73.7Z"/><path d="M1053.9 116.9L1064.4 127.4L1053.9 137.9L1043.4 127.4Z"/><path d="M1054.1 156.3L1064.6 166.8L1054.1 177.3L1043.6 166.8Z"/><path d="M1054.2 19.0L1064.7 29.5L1054.2 40.0L1043.7 29.5Z"/><path d="M1056.5 15.8L1067.0 26.3L1056.5 36.8L1046.0 26.3Z"/><path d="M1057.3 22.3L1067.8 32.8L1057.3 43.3L1046.8 32.8Z"/><path d="M1057.3 114.8L1067.8 125.3L1057.3 135.8L1046.8 125.3Z"/><path d="M1059.1 19.1L1069.6 29.6L1059.1 40.1L1048.6 29.6Z"/><path d="M1060.2 30.3L1070.7 40.8L1060.2 51.3L1049.7 40.8Z"/><path d="M1060.9 93.5L1071.4 104.0L1060.9 114.5L1050.4 104.0Z"/><path d="M1060.9 130.8L1071.4 141.3L1060.9 151.8L1050.4 141.3Z"/><path d="M1061.5 71.9L1072.0 82.4L1061.5 92.9L1051.0 82.4Z"/><path d="M1061.8 22.3L1072.3 32.8L1061.8 43.3L1051.3 32.8Z"/><path d="M1062.7 33.0L1073.2 43.5L1062.7 54.0L1052.2 43.5Z"/><path d="M1064.2 84.0L1074.7 94.5L1064.2 105.0L1053.7 94.5Z"/><path d="M1064.3 69.3L1074.8 79.8L1064.3 90.3L1053.8 79.8Z"/><path d="M1064.5 126.7L1075.0 137.2L1064.5 147.7L1054.0 137.2Z"/><path d="M1067.1 66.8L1077.6 77.3L1067.1 87.8L1056.6 77.3Z"/><path d="M1067.1 86.4L1077.6 96.9L1067.1 107.4L1056.6 96.9Z"/><path d="M1067.1 102.4L1077.6 112.9L1067.1 123.4L1056.6 112.9Z"/><path d="M1067.1 129.1L1077.6 139.6L1067.1 150.1L1056.6 139.6Z"/><path d="M1068.9 34.7L1079.4 45.2L1068.9 55.7L1058.4 45.2Z"/><path d="M1072.7 107.3L1083.2 117.8L1072.7 128.3L1062.2 117.8Z"/><path d="M1074.4 79.7L1084.9 90.2L1074.4 100.7L1063.9 90.2Z"/><path d="M1075.2 110.2L1085.7 120.7L1075.2 131.2L1064.7 120.7Z"/><path d="M1076.2 179.0L1086.7 189.5L1076.2 200.0L1065.7 189.5Z"/><path d="M1077.5 174.1L1088.0 184.6L1077.5 195.1L1067.0 184.6Z"/><path d="M1077.8 77.5L1088.3 88.0L1077.8 98.5L1067.3 88.0Z"/><path d="M1077.8 113.0L1088.3 123.5L1077.8 134.0L1067.3 123.5Z"/><path d="M1079.5 133.8L1090.0 144.3L1079.5 154.8L1069.0 144.3Z"/><path d="M1079.6 35.6L1090.1 46.1L1079.6 56.6L1069.1 46.1Z"/><path d="M1081.5 132.1L1092.0 142.6L1081.5 153.1L1071.0 142.6Z"/><path d="M1084.1 128.8L1094.6 139.3L1084.1 149.8L1073.6 139.3Z"/><path d="M1086.7 72.1L1097.2 82.6L1086.7 93.1L1076.2 82.6Z"/><path d="M1086.7 125.5L1097.2 136.0L1086.7 146.5L1076.2 136.0Z"/><path d="M1088.5 102.4L1099.0 112.9L1088.5 123.4L1078.0 112.9Z"/><path d="M1091.1 37.4L1101.6 47.9L1091.1 58.4L1080.6 47.9Z"/><path d="M1096.4 346.5L1106.9 357.0L1096.4 367.5L1085.9 357.0Z"/><path d="M1097.9 259.9L1108.4 270.4L1097.9 280.9L1087.4 270.4Z"/><path d="M1099.4 282.2L1109.9 292.7L1099.4 303.2L1088.9 292.7Z"/><path d="M1100.9 132.6L1111.4 143.1L1100.9 153.6L1090.4 143.1Z"/><path d="M1101.8 140.3L1112.3 150.8L1101.8 161.3L1091.3 150.8Z"/><path d="M1103.8 195.2L1114.3 205.7L1103.8 216.2L1093.3 205.7Z"/><path d="M1104.5 143.3L1115.0 153.8L1104.5 164.3L1094.0 153.8Z"/><path d="M1105.0 156.3L1115.5 166.8L1105.0 177.3L1094.5 166.8Z"/><path d="M1105.3 171.8L1115.8 182.3L1105.3 192.8L1094.8 182.3Z"/><path d="M1105.4 85.5L1115.9 96.0L1105.4 106.5L1094.9 96.0Z"/><path d="M1106.4 198.2L1116.9 208.7L1106.4 219.2L1095.9 208.7Z"/><path d="M1107.3 159.8L1117.8 170.3L1107.3 180.8L1096.8 170.3Z"/><path d="M1108.0 175.3L1118.5 185.8L1108.0 196.3L1097.5 185.8Z"/><path d="M1110.3 176.9L1120.8 187.4L1110.3 197.9L1099.8 187.4Z"/><path d="M1112.7 211.0L1123.2 221.5L1112.7 232.0L1102.2 221.5Z"/><path d="M1112.9 180.2L1123.4 190.7L1112.9 201.2L1102.4 190.7Z"/><path d="M1115.2 109.5L1125.7 120.0L1115.2 130.5L1104.7 120.0Z"/><path d="M1115.6 183.6L1126.1 194.1L1115.6 204.6L1105.1 194.1Z"/><path d="M1116.4 165.3L1126.9 175.8L1116.4 186.3L1105.9 175.8Z"/><path d="M1116.9 48.1L1127.4 58.6L1116.9 69.1L1106.4 58.6Z"/><path d="M1118.7 141.5L1129.2 152.0L1118.7 162.5L1108.2 152.0Z"/><path d="M1119.1 162.2L1129.6 172.7L1119.1 183.2L1108.6 172.7Z"/><path d="M1121.4 134.4L1131.9 144.9L1121.4 155.4L1110.9 144.9Z"/><path d="M1122.3 171.5L1132.8 182.0L1122.3 192.5L1111.8 182.0Z"/><path d="M1124.1 132.6L1134.6 143.1L1124.1 153.6L1113.6 143.1Z"/><path d="M1124.6 175.3L1135.1 185.8L1124.6 196.3L1114.1 185.8Z"/><path d="M1127.8 40.9L1138.3 51.4L1127.8 61.9L1117.3 51.4Z"/><path d="M1128.4 103.6L1138.9 114.1L1128.4 124.6L1117.9 114.1Z"/><path d="M1131.2 42.8L1141.7 53.3L1131.2 63.8L1120.7 53.3Z"/><path d="M1131.2 105.9L1141.7 116.4L1131.2 126.9L1120.7 116.4Z"/><path d="M1136.2 140.0L1146.7 150.5L1136.2 161.0L1125.7 150.5Z"/><path d="M1136.5 98.8L1147.0 109.3L1136.5 119.8L1126.0 109.3Z"/><path d="M1137.9 51.9L1148.4 62.4L1137.9 72.9L1127.4 62.4Z"/><path d="M1138.8 156.3L1149.3 166.8L1138.8 177.3L1128.3 166.8Z"/><path d="M1139.1 136.3L1149.6 146.8L1139.1 157.3L1128.6 146.8Z"/><path d="M1140.1 49.0L1150.6 59.5L1140.1 70.0L1129.6 59.5Z"/><path d="M1141.9 132.6L1152.4 143.1L1141.9 153.6L1131.4 143.1Z"/><path d="M1142.9 42.5L1153.4 53.0L1142.9 63.5L1132.4 53.0Z"/><path d="M1145.4 39.2L1155.9 49.7L1145.4 60.2L1134.9 49.7Z"/><path d="M1145.4 89.9L1155.9 100.4L1145.4 110.9L1134.9 100.4Z"/><path d="M1148.0 63.1L1158.5 73.6L1148.0 84.1L1137.5 73.6Z"/><path d="M1149.9 144.7L1160.4 155.2L1149.9 165.7L1139.4 155.2Z"/><path d="M1150.7 22.3L1161.2 32.8L1150.7 43.3L1140.2 32.8Z"/><path d="M1151.1 59.6L1161.6 70.1L1151.1 80.6L1140.6 70.1Z"/><path d="M1152.5 111.3L1163.0 121.8L1152.5 132.3L1142.0 121.8Z"/><path d="M1153.0 142.1L1163.5 152.6L1153.0 163.1L1142.5 152.6Z"/><path d="M1154.3 56.1L1164.8 66.6L1154.3 77.1L1143.8 66.6Z"/><path d="M1159.6 139.7L1170.1 150.2L1159.6 160.7L1149.1 150.2Z"/><path d="M1160.1 66.5L1170.6 77.0L1160.1 87.5L1149.6 77.0Z"/><path d="M1161.4 86.4L1171.9 96.9L1161.4 107.4L1150.9 96.9Z"/><path d="M1163.2 70.3L1173.7 80.8L1163.2 91.3L1152.7 80.8Z"/><path d="M1170.0 703.0L1180.5 713.5L1170.0 724.0L1159.5 713.5Z"/><path d="M1171.1 405.8L1181.6 416.3L1171.1 426.8L1160.6 416.3Z"/><path d="M1172.6 319.8L1183.1 330.3L1172.6 340.8L1162.1 330.3Z"/><path d="M1173.2 137.1L1183.7 147.6L1173.2 158.1L1162.7 147.6Z"/><path d="M1173.5 230.9L1184.0 241.4L1173.5 251.9L1163.0 241.4Z"/><path d="M1174.0 154.1L1184.5 164.6L1174.0 175.1L1163.5 164.6Z"/><path d="M1175.7 139.7L1186.2 150.2L1175.7 160.7L1165.2 150.2Z"/><path d="M1176.9 156.5L1187.4 167.0L1176.9 177.5L1166.4 167.0Z"/><path d="M1179.2 152.7L1189.7 163.2L1179.2 173.7L1168.7 163.2Z"/><path d="M1179.5 216.9L1190.0 227.4L1179.5 237.9L1169.0 227.4Z"/><path d="M1180.3 120.4L1190.8 130.9L1180.3 141.4L1169.8 130.9Z"/><path d="M1181.0 93.5L1191.5 104.0L1181.0 114.5L1170.5 104.0Z"/><path d="M1181.7 128.4L1192.2 138.9L1181.7 149.4L1171.2 138.9Z"/><path d="M1181.9 156.0L1192.4 166.5L1181.9 177.0L1171.4 166.5Z"/><path d="M1183.3 116.7L1193.8 127.2L1183.3 137.7L1172.8 127.2Z"/><path d="M1184.6 125.5L1195.1 136.0L1184.6 146.5L1174.1 136.0Z"/><path d="M1186.3 50.8L1196.8 61.3L1186.3 71.8L1175.8 61.3Z"/><path d="M1186.3 113.0L1196.8 123.5L1186.3 134.0L1175.8 123.5Z"/><path d="M1189.5 108.6L1200.0 119.1L1189.5 129.6L1179.0 119.1Z"/><path d="M1191.8 109.8L1202.3 120.3L1191.8 130.8L1181.3 120.3Z"/><path d="M1192.3 49.3L1202.8 59.8L1192.3 70.3L1181.8 59.8Z"/><path d="M1194.4 124.0L1204.9 134.5L1194.4 145.0L1183.9 134.5Z"/><path d="M1195.2 47.2L1205.7 57.7L1195.2 68.2L1184.7 57.7Z"/><path d="M1195.2 107.7L1205.7 118.2L1195.2 128.7L1184.7 118.2Z"/><path d="M1195.4 137.1L1205.9 147.6L1195.4 158.1L1184.9 147.6Z"/><path d="M1197.1 121.9L1207.6 132.4L1197.1 142.9L1186.6 132.4Z"/><path d="M1198.8 139.7L1209.3 150.2L1198.8 160.7L1188.3 150.2Z"/><path d="M1199.8 115.4L1210.3 125.9L1199.8 136.4L1189.3 125.9Z"/><path d="M1200.9 101.0L1211.4 111.5L1200.9 122.0L1190.4 111.5Z"/><path d="M1201.3 131.8L1211.8 142.3L1201.3 152.8L1190.8 142.3Z"/><path d="M1202.3 118.4L1212.8 128.9L1202.3 139.4L1191.8 128.9Z"/><path d="M1204.6 129.5L1215.1 140.0L1204.6 150.5L1194.1 140.0Z"/><path d="M1205.2 81.9L1215.7 92.4L1205.2 102.9L1194.7 92.4Z"/><path d="M1205.9 36.5L1216.4 47.0L1205.9 57.5L1195.4 47.0Z"/><path d="M1206.1 112.3L1216.6 122.8L1206.1 133.3L1195.6 122.8Z"/><path d="M1207.7 79.2L1218.2 89.7L1207.7 100.2L1197.2 89.7Z"/><path d="M1208.4 84.0L1218.9 94.5L1208.4 105.0L1197.9 94.5Z"/><path d="M1208.4 108.6L1218.9 119.1L1208.4 129.6L1197.9 119.1Z"/><path d="M1210.7 123.2L1221.2 133.7L1210.7 144.2L1200.2 133.7Z"/><path d="M1211.3 37.5L1221.8 48.0L1211.3 58.5L1200.8 48.0Z"/><path d="M1214.1 66.9L1224.6 77.4L1214.1 87.9L1203.6 77.4Z"/><path d="M1214.1 120.0L1224.6 130.5L1214.1 141.0L1203.6 130.5Z"/><path d="M1214.1 159.8L1224.6 170.3L1214.1 180.8L1203.6 170.3Z"/><path d="M1215.3 85.6L1225.8 96.1L1215.3 106.6L1204.8 96.1Z"/><path d="M1217.9 82.1L1228.4 92.6L1217.9 103.1L1207.4 92.6Z"/><path d="M1219.2 135.4L1229.7 145.9L1219.2 156.4L1208.7 145.9Z"/><path d="M1221.3 67.8L1231.8 78.3L1221.3 88.8L1210.8 78.3Z"/><path d="M1221.7 138.9L1232.2 149.4L1221.7 159.9L1211.2 149.4Z"/><path d="M1223.6 45.1L1234.1 55.6L1223.6 66.1L1213.1 55.6Z"/><path d="M1223.6 70.7L1234.1 81.2L1223.6 91.7L1213.1 81.2Z"/><path d="M1225.5 131.3L1236.0 141.8L1225.5 152.3L1215.0 141.8Z"/><path d="M1227.4 89.6L1237.9 100.1L1227.4 110.6L1216.9 100.1Z"/><path d="M1228.5 121.1L1239.0 131.6L1228.5 142.1L1218.0 131.6Z"/><path d="M1229.9 81.8L1240.4 92.3L1229.9 102.8L1219.4 92.3Z"/><path d="M1231.2 123.8L1241.7 134.3L1231.2 144.8L1220.7 134.3Z"/><path d="M1231.7 114.7L1242.2 125.2L1231.7 135.7L1221.2 125.2Z"/><path d="M1233.1 78.3L1243.6 88.8L1233.1 99.3L1222.6 88.8Z"/><path d="M1234.3 111.7L1244.8 122.2L1234.3 132.7L1223.8 122.2Z"/><path d="M1236.9 108.6L1247.4 119.1L1236.9 129.6L1226.4 119.1Z"/><path d="M1236.9 137.0L1247.4 147.5L1236.9 158.0L1226.4 147.5Z"/><path d="M1238.0 98.8L1248.5 109.3L1238.0 119.8L1227.5 109.3Z"/><path d="M1240.7 95.3L1251.2 105.8L1240.7 116.3L1230.2 105.8Z"/><path d="M1245.0 638.0L1255.5 648.5L1245.0 659.0L1234.5 648.5Z"/><path d="M1246.2 398.4L1256.7 408.9L1246.2 419.4L1235.7 408.9Z"/></g>
<g fill="#fff" stroke="#3a953a" stroke-width="2.1"><circle cx="203.9" cy="546.8" r="10.5"/><circle cx="203.9" cy="392.6" r="10.5"/><circle cx="204.5" cy="478.3" r="10.5"/><circle cx="207.0" cy="452.7" r="10.5"/><circle cx="207.9" cy="442.5" r="10.5"/><circle cx="209.1" cy="423.4" r="10.5"/><circle cx="213.0" cy="363.2" r="10.5"/><circle cx="213.1" cy="403.4" r="10.5"/><circle cx="214.7" cy="340.0" r="10.5"/><circle cx="216.7" cy="321.8" r="10.5"/><circle cx="217.8" cy="386.4" r="10.5"/><circle cx="218.4" cy="310.2" r="10.5"/><circle cx="218.7" cy="323.4" r="10.5"/><circle cx="219.3" cy="366.3" r="10.5"/><circle cx="220.9" cy="312.3" r="10.5"/><circle cx="222.5" cy="352.1" r="10.5"/><circle cx="225.5" cy="355.5" r="10.5"/><circle cx="226.8" cy="318.5" r="10.5"/><circle cx="229.1" cy="314.4" r="10.5"/><circle cx="229.1" cy="321.5" r="10.5"/><circle cx="231.0" cy="331.0" r="10.5"/><circle cx="232.0" cy="311.1" r="10.5"/><circle cx="233.8" cy="291.5" r="10.5"/><circle cx="233.8" cy="344.4" r="10.5"/><circle cx="235.8" cy="294.0" r="10.5"/><circle cx="236.3" cy="341.7" r="10.5"/><circle cx="240.5" cy="319.6" r="10.5"/><circle cx="241.4" cy="280.8" r="10.5"/><circle cx="243.3" cy="290.2" r="10.5"/><circle cx="245.3" cy="298.6" r="10.5"/><circle cx="248.1" cy="327.2" r="10.5"/><circle cx="248.1" cy="300.7" r="10.5"/><circle cx="253.8" cy="319.6" r="10.5"/><circle cx="253.8" cy="285.5" r="10.5"/><circle cx="253.8" cy="251.4" r="10.5"/><circle cx="255.5" cy="302.5" r="10.5"/><circle cx="257.1" cy="268.9" r="10.5"/><circle cx="257.6" cy="300.7" r="10.5"/><circle cx="259.5" cy="271.3" r="10.5"/><circle cx="263.2" cy="313.0" r="10.5"/><circle cx="263.5" cy="315.2" r="10.5"/><circle cx="265.1" cy="287.4" r="10.5"/><circle cx="266.4" cy="252.8" r="10.5"/><circle cx="266.4" cy="313.5" r="10.5"/><circle cx="267.0" cy="256.1" r="10.5"/><circle cx="268.0" cy="307.2" r="10.5"/><circle cx="268.9" cy="300.7" r="10.5"/><circle cx="268.9" cy="268.4" r="10.5"/><circle cx="270.2" cy="304.0" r="10.5"/><circle cx="276.6" cy="278.0" r="10.5"/><circle cx="277.8" cy="220.9" r="10.5"/><circle cx="279.7" cy="249.9" r="10.5"/><circle cx="279.7" cy="281.2" r="10.5"/><circle cx="282.5" cy="304.8" r="10.5"/><circle cx="283.5" cy="253.7" r="10.5"/><circle cx="285.4" cy="302.1" r="10.5"/><circle cx="289.2" cy="288.8" r="10.5"/><circle cx="292.6" cy="280.3" r="10.5"/><circle cx="292.8" cy="294.1" r="10.5"/><circle cx="293.0" cy="268.0" r="10.5"/><circle cx="294.8" cy="296.4" r="10.5"/><circle cx="295.7" cy="308.5" r="10.5"/><circle cx="295.8" cy="277.4" r="10.5"/><circle cx="298.6" cy="305.9" r="10.5"/><circle cx="302.4" cy="292.6" r="10.5"/><circle cx="307.0" cy="280.0" r="10.5"/><circle cx="307.7" cy="301.8" r="10.5"/><circle cx="308.9" cy="265.3" r="10.5"/><circle cx="310.0" cy="283.1" r="10.5"/><circle cx="310.0" cy="300.2" r="10.5"/><circle cx="310.0" cy="343.9" r="10.5"/><circle cx="310.9" cy="349.8" r="10.5"/><circle cx="311.9" cy="268.0" r="10.5"/><circle cx="313.6" cy="337.1" r="10.5"/><circle cx="313.8" cy="351.4" r="10.5"/><circle cx="315.7" cy="335.3" r="10.5"/><circle cx="319.5" cy="368.5" r="10.5"/><circle cx="321.4" cy="304.0" r="10.5"/><circle cx="323.8" cy="289.7" r="10.5"/><circle cx="324.7" cy="270.8" r="10.5"/><circle cx="327.1" cy="273.6" r="10.5"/><circle cx="327.1" cy="292.6" r="10.5"/><circle cx="329.0" cy="336.3" r="10.5"/><circle cx="330.9" cy="300.2" r="10.5"/><circle cx="330.9" cy="354.3" r="10.5"/><circle cx="331.3" cy="311.0" r="10.5"/><circle cx="332.8" cy="323.0" r="10.5"/><circle cx="334.7" cy="313.5" r="10.5"/></g>
<g font-size="44">
<text x="169" y="265.5" text-anchor="end">0.998</text>
<text x="169" y="497.5" text-anchor="end">0.996</text>
<text x="169" y="730" text-anchor="end">0.994</text>
</g>
<g font-size="44.5" text-anchor="middle">
<text x="197" y="774.5">0</text>
<text x="335.6" y="774.5" text-anchor="start">00</text>
<text x="493" y="774.5">200</text>
<text x="642" y="774.5">300</text>
<text x="791" y="774.5">400</text>
<text x="942" y="774.5">500</text>
<text x="1090" y="774.5">600</text>
<text x="1242" y="774.5">700</text>
</g>
<text x="719.7" y="833.5" font-size="49" text-anchor="middle">Cycle</text>
<text transform="translate(34.5,380) rotate(-90)" font-size="48.5" text-anchor="middle">Coulombic Efficiency</text>
<path d="M180.4 4.8V31.7M180.4 4.8L171.6 12.0M326.6 746.2V772.2M326.6 746.2L318.4 753.2" stroke="#000" stroke-width="4.5" stroke-linecap="round" stroke-linejoin="round" fill="none"/>
<circle cx="384.9" cy="589" r="13.3" fill="none" stroke="#3a953a" stroke-width="2.1"/>
<path d="M384.7 626.0L397.7 639.0L384.7 652.0L371.7 639.0Z" fill="none" stroke="#c0353f" stroke-width="2.1"/>
<text x="458.5" y="597.5" font-size="34">Control</text>
<text x="458.5" y="647.3" font-size="34">Prelithiated</text>
</svg>
</body></html>
